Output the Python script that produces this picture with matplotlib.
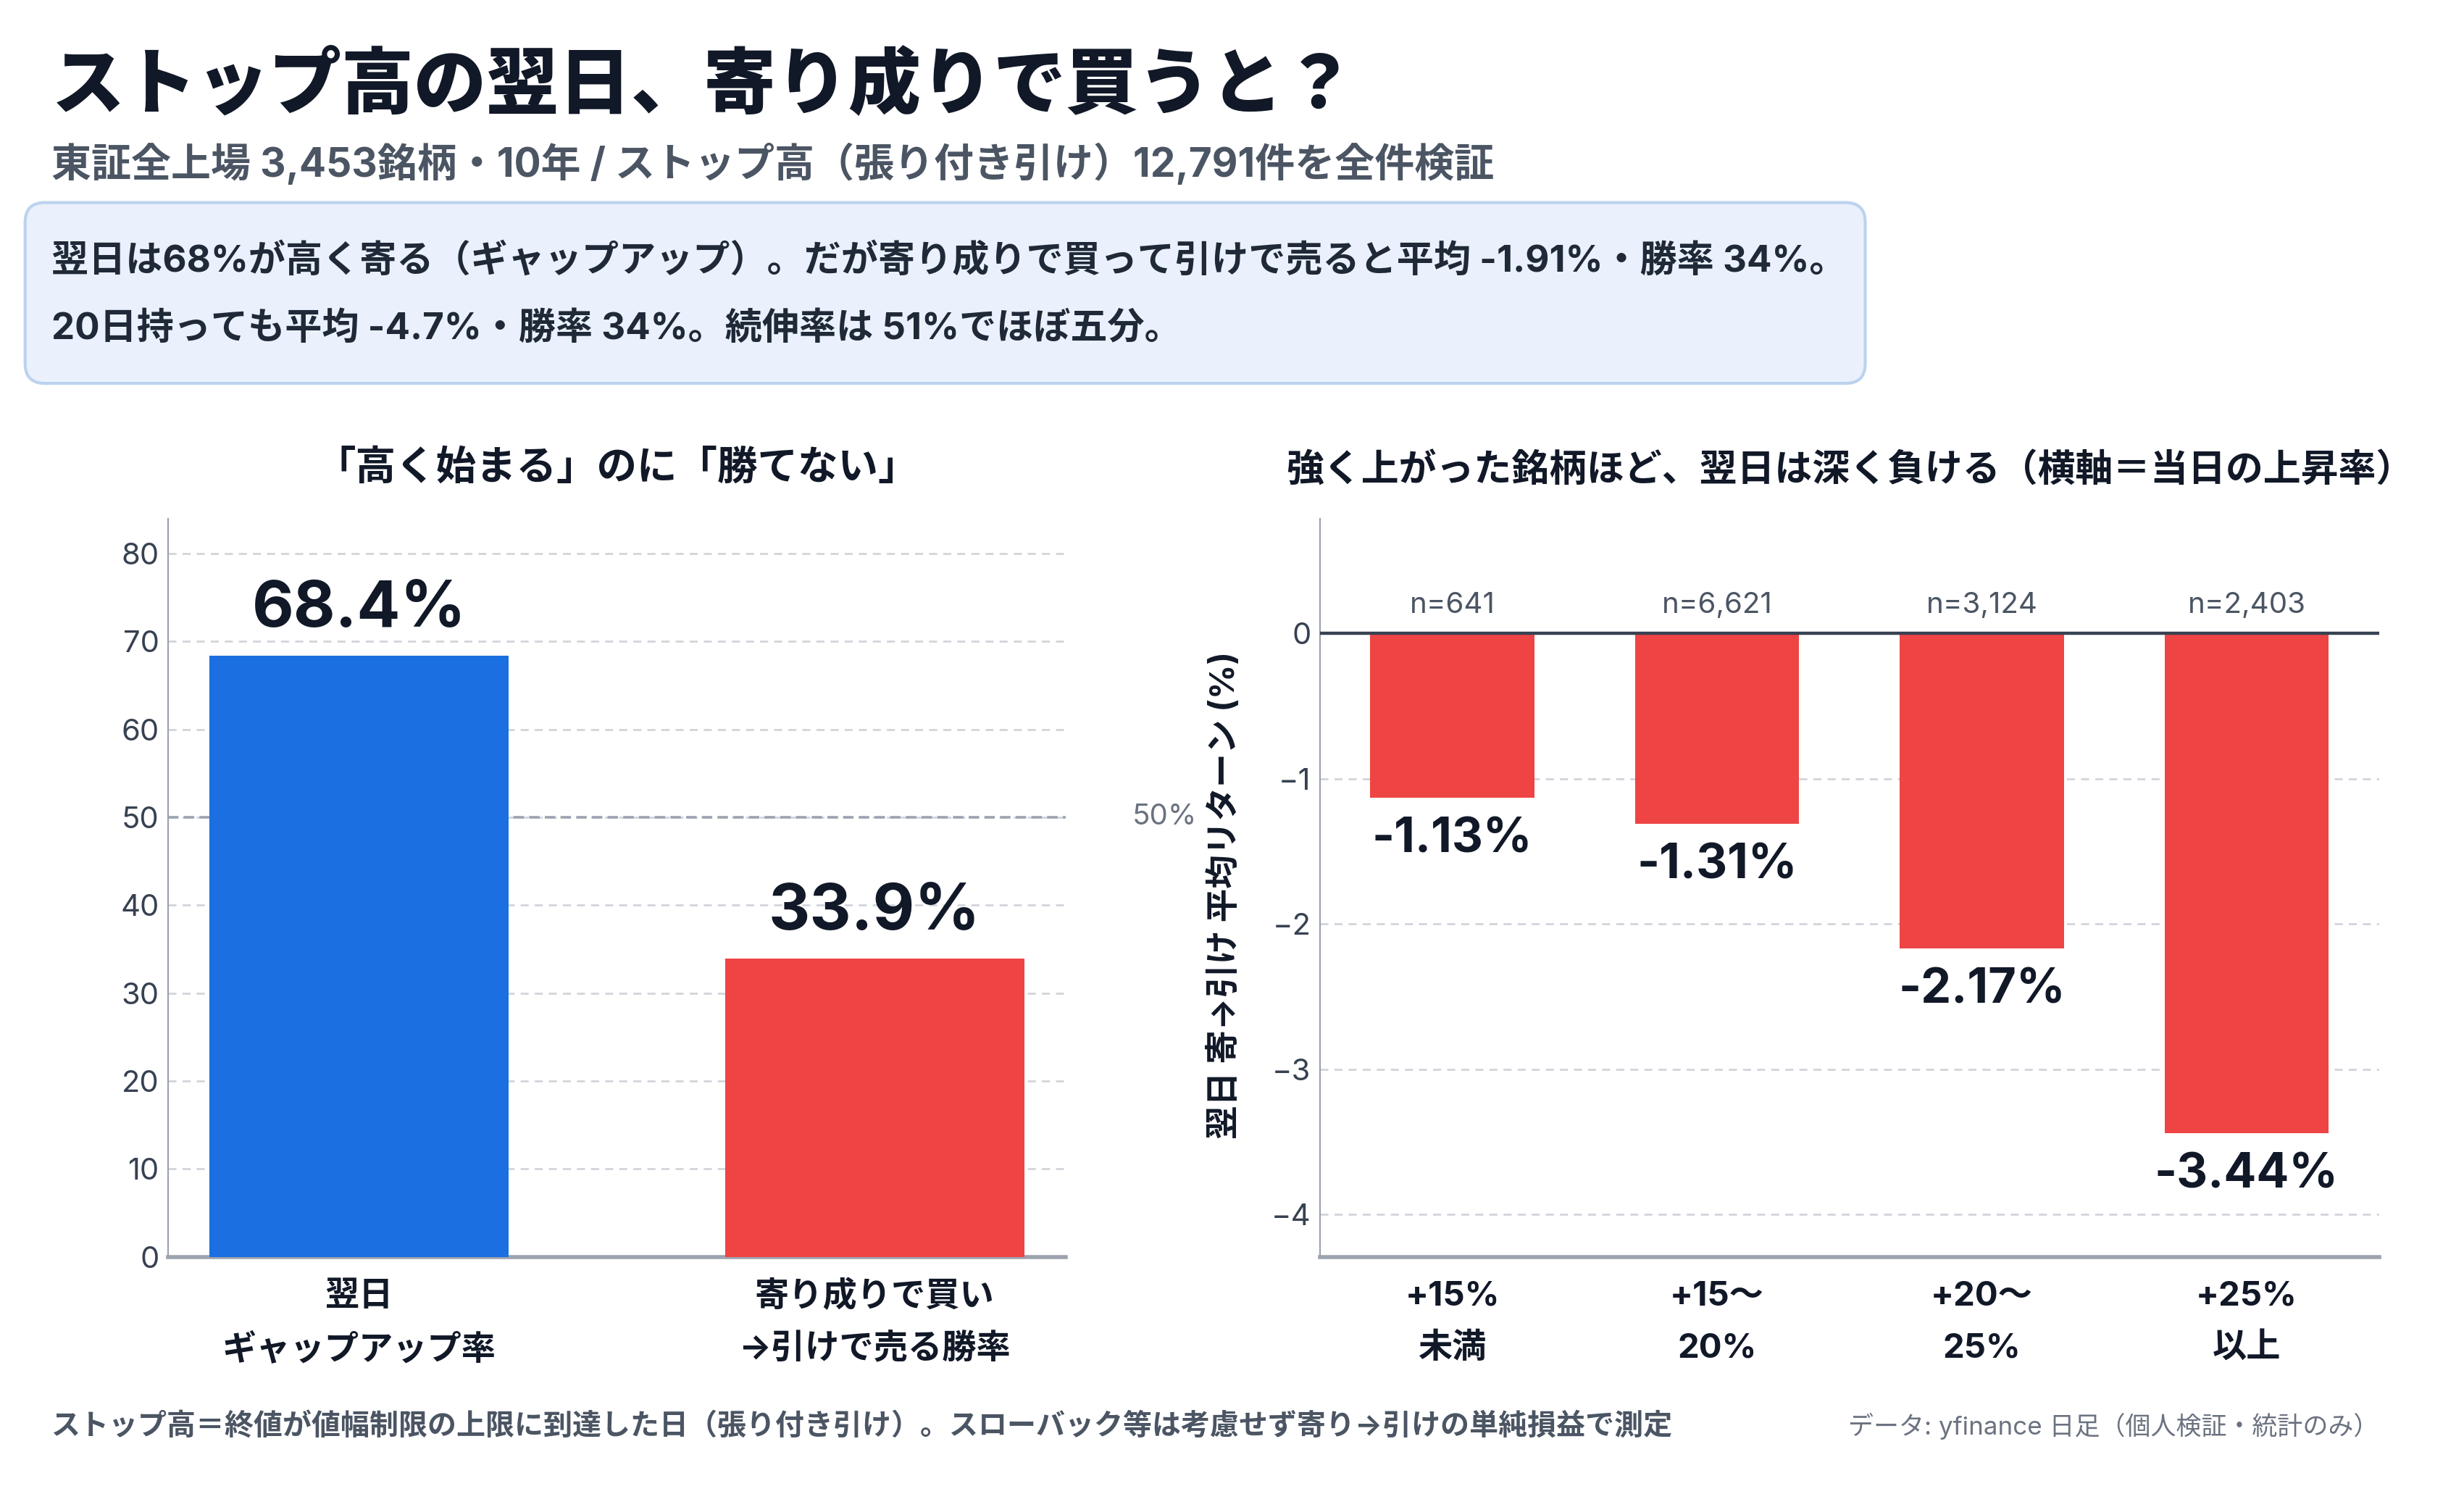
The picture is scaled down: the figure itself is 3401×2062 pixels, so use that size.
import matplotlib
matplotlib.use('Agg')
import matplotlib.pyplot as plt
from matplotlib.patches import FancyBboxPatch

plt.rcParams['font.family'] = ['Inter', 'Noto Sans CJK JP', 'DejaVu Sans']
plt.rcParams['axes.unicode_minus'] = True

# data
left_labels = ['翌日\nギャップアップ率', '寄り成りで買い\n→引けで売る勝率']
left_values = [68.4, 33.9]
left_colors = ['#1b6fe0', '#ef4444']

right_labels = ['+15%\n未満', '+15〜\n20%', '+20〜\n25%', '+25%\n以上']
right_values = [-1.13, -1.31, -2.17, -3.44]
right_counts = [641, 6621, 3124, 2403]

DARK = '#111827'
GRAY = '#4b5563'
LIGHT = '#6b7280'
GRID = '#d1d5db'
SPINE = '#9ca3af'

fig = plt.figure(figsize=(17.005, 10.31), dpi=200)

# header
fig.text(0.021, 0.942, 'ストップ高の翌日、寄り成りで買うと？', fontsize=36,
         fontweight='heavy', color=DARK, va='center', ha='left')
fig.text(0.021, 0.8906, '東証全上場 3,453銘柄・10年 / ストップ高（張り付き引け）12,791件を全件検証',
         fontsize=19.8, fontweight='bold', color=GRAY, va='center', ha='left')

box = FancyBboxPatch((0.0102, 0.7434), 0.7468, 0.121, transform=fig.transFigure,
                     boxstyle='round,pad=0,rounding_size=0.008', mutation_aspect=3401 / 2062,
                     facecolor='#eaf1fc', edgecolor='#bcd3ee', linewidth=1.5)
fig.patches.append(box)
fig.text(0.021, 0.8254, '翌日は68%が高く寄る（ギャップアップ）。だが寄り成りで買って引けで売ると平均 -1.91%・勝率 34%。',
         fontsize=18.4, fontweight='bold', color='#1f2937', va='center', ha='left')
fig.text(0.021, 0.7802, '20日持っても平均 -4.7%・勝率 34%。続伸率は 51%でほぼ五分。',
         fontsize=18.4, fontweight='bold', color='#1f2937', va='center', ha='left')

# left chart
ax1 = fig.add_axes([0.0682, 0.1588, 0.3642, 0.4942])
x1 = range(len(left_values))
ax1.bar(x1, left_values, width=0.58, color=left_colors, zorder=3)
ax1.set_xlim(-0.37, 1.37)
ax1.set_ylim(0, 84)
ax1.set_yticks(range(0, 81, 10))
ax1.grid(axis='y', color=GRID, linestyle=(0, (4, 3)), linewidth=1.0, zorder=0)
ax1.axhline(50, color='#9ca3af', linestyle=(0, (4, 2)), linewidth=1.3, zorder=2)
ax1.text(1.562, 50, '50%', fontsize=14.5, color=LIGHT, ha='center', va='center', clip_on=False)
for i, v in enumerate(left_values):
    ax1.text(i, v + 5.2, f'{v:.1f}%', fontsize=32, fontweight='bold', color=DARK,
             ha='center', va='center')
ax1.set_xticks(list(x1))
ax1.set_xticklabels(left_labels, fontsize=17, fontweight='bold', color=DARK,
                    linespacing=1.8, va='top')
ax1.text(0.5, 1.068, '「高く始まる」のに「勝てない」', transform=ax1.transAxes,
         fontsize=20, fontweight='bold', color=DARK, ha='center', va='center')

# right chart
ax2 = fig.add_axes([0.5357, 0.1588, 0.4298, 0.4942])
x2 = range(len(right_values))
ax2.bar(x2, right_values, width=0.62, color='#ef4444', zorder=3)
ax2.set_xlim(-0.5, 3.5)
ax2.set_ylim(-4.29, 0.79)
ax2.set_yticks([0, -1, -2, -3, -4])
ax2.set_yticklabels(['0', '\u22121', '\u22122', '\u22123', '\u22124'])
ax2.grid(axis='y', color=GRID, linestyle=(0, (4, 3)), linewidth=1.0, zorder=0)
ax2.axhline(0, color='#374151', linewidth=1.6, zorder=4)
for i, (v, n) in enumerate(zip(right_values, right_counts)):
    ax2.text(i, v - 0.29, f'{v:.2f}%', fontsize=24, fontweight='bold', color=DARK,
             ha='center', va='center')
    ax2.text(i, 0.19, f'n={n:,}', fontsize=14.5, color=GRAY, ha='center', va='center')
ax2.set_xticks(list(x2))
ax2.set_xticklabels(right_labels, fontsize=17, fontweight='bold', color=DARK,
                    linespacing=1.8, va='top')
ax2.set_ylabel('翌日 寄→引け 平均リターン (%)', fontsize=16.8, fontweight='bold', color=DARK)
ax2.yaxis.set_label_coords(-0.074, 0.49)
ax2.text(0.5, 1.064, '強く上がった銘柄ほど、翌日は深く負ける（横軸＝当日の上昇率）', transform=ax2.transAxes,
         fontsize=18.7, fontweight='bold', color=DARK, ha='center', va='center')

for ax in (ax1, ax2):
    ax.spines['top'].set_visible(False)
    ax.spines['right'].set_visible(False)
    ax.spines['left'].set_color(SPINE)
    ax.spines['left'].set_linewidth(0.8)
    ax.spines['bottom'].set_color(SPINE)
    ax.spines['bottom'].set_linewidth(2.0)
    ax.tick_params(axis='y', length=0, labelsize=15, labelcolor='#374151', pad=4.5)
    ax.tick_params(axis='x', length=0, pad=12)
    ax.set_axisbelow(True)

# footer
fig.text(0.021, 0.0452, 'ストップ高＝終値が値幅制限の上限に到達した日（張り付き引け）。スローバック等は考慮せず寄り→引けの単純損益で測定',
         fontsize=14.4, fontweight='bold', color=GRAY, ha='left', va='center')
fig.text(0.9655, 0.0452, 'データ: yfinance 日足（個人検証・統計のみ）',
         fontsize=12.6, color=LIGHT, ha='right', va='center')

fig.savefig('out.png', dpi=200, facecolor='white')
